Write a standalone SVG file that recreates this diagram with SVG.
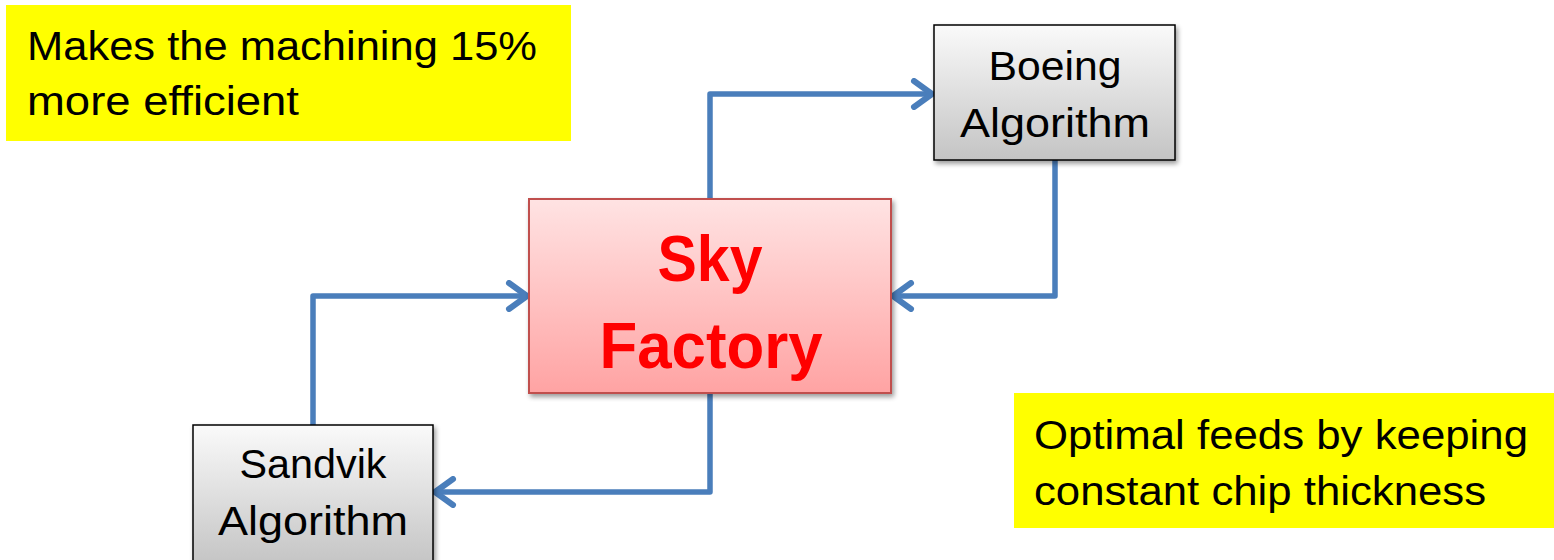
<svg xmlns="http://www.w3.org/2000/svg" width="1554" height="560" viewBox="0 0 1554 560">
<defs>
<linearGradient id="gRed" x1="0" y1="0" x2="0" y2="1"><stop offset="0" stop-color="#ffe3e3"/><stop offset="1" stop-color="#ffa3a3"/></linearGradient>
<linearGradient id="gGray" x1="0" y1="0" x2="0" y2="1"><stop offset="0" stop-color="#fafafa"/><stop offset="1" stop-color="#c4c4c4"/></linearGradient>
<filter id="sh" x="-10%" y="-10%" width="130%" height="130%"><feGaussianBlur in="SourceAlpha" stdDeviation="2.5"/><feOffset dx="2" dy="3" result="b"/><feComponentTransfer><feFuncA type="linear" slope="0.4"/></feComponentTransfer><feMerge><feMergeNode/><feMergeNode in="SourceGraphic"/></feMerge></filter>
<marker id="arr" markerUnits="userSpaceOnUse" viewBox="0 0 32 32" refX="28" refY="16" markerWidth="32" markerHeight="32" orient="auto"><path d="M10,3 L28,16 L10,29" fill="none" stroke="#4a7ebb" stroke-width="6" stroke-linecap="round" stroke-linejoin="round"/></marker>
<style>
.lbl{font-family:"Liberation Sans",Arial,sans-serif;fill:#000}
.conn{fill:none;stroke:#4a7ebb;stroke-width:5.5;stroke-linejoin:round}
.big{font-family:"Liberation Sans",Arial,sans-serif;font-weight:bold;fill:#ff0000}
</style>
</defs>
<rect width="1554" height="560" fill="#ffffff"/>
<g id="connectors">
<path class="conn" d="M710,199 V94 H932" marker-end="url(#arr)"/>
<path class="conn" d="M1055,160 V296 H893" marker-end="url(#arr)"/>
<path class="conn" d="M710,393 V492 H435" marker-end="url(#arr)"/>
<path class="conn" d="M313,425 V296 H527" marker-end="url(#arr)"/>
</g>
<g id="note1">
<rect x="6" y="5" width="565" height="136" fill="#ffff00"/>
<text class="lbl" font-size="41" x="27" y="60" textLength="510" lengthAdjust="spacingAndGlyphs">Makes the machining 15%</text>
<text class="lbl" font-size="41" x="27" y="115" textLength="272" lengthAdjust="spacingAndGlyphs">more efficient</text>
</g>
<g id="note2">
<rect x="1014" y="393" width="540" height="135" fill="#ffff00"/>
<text class="lbl" font-size="41" x="1034" y="449" textLength="494" lengthAdjust="spacingAndGlyphs">Optimal feeds by keeping</text>
<text class="lbl" font-size="41" x="1034" y="505" textLength="452" lengthAdjust="spacingAndGlyphs">constant chip thickness</text>
</g>
<g id="skyfactory">
<rect x="529" y="199" width="362" height="194" fill="url(#gRed)" stroke="#c0504d" stroke-width="2" filter="url(#sh)"/>
<text class="big" font-size="64" text-anchor="middle" x="710" y="281" textLength="105" lengthAdjust="spacingAndGlyphs">Sky</text>
<text class="big" font-size="64" text-anchor="middle" x="711" y="368" textLength="223" lengthAdjust="spacingAndGlyphs">Factory</text>
</g>
<g id="boeing">
<rect x="934" y="25" width="241" height="135" fill="url(#gGray)" stroke="#000" stroke-width="1.5" filter="url(#sh)"/>
<text class="lbl" font-size="41" text-anchor="middle" x="1055" y="80" textLength="133" lengthAdjust="spacingAndGlyphs">Boeing</text>
<text class="lbl" font-size="41" text-anchor="middle" x="1055" y="137" textLength="190" lengthAdjust="spacingAndGlyphs">Algorithm</text>
</g>
<g id="sandvik">
<rect x="193" y="425" width="240" height="140" fill="url(#gGray)" stroke="#000" stroke-width="1.5" filter="url(#sh)"/>
<text class="lbl" font-size="41" text-anchor="middle" x="313" y="478" textLength="147" lengthAdjust="spacingAndGlyphs">Sandvik</text>
<text class="lbl" font-size="41" text-anchor="middle" x="313" y="535" textLength="190" lengthAdjust="spacingAndGlyphs">Algorithm</text>
</g>
</svg>
